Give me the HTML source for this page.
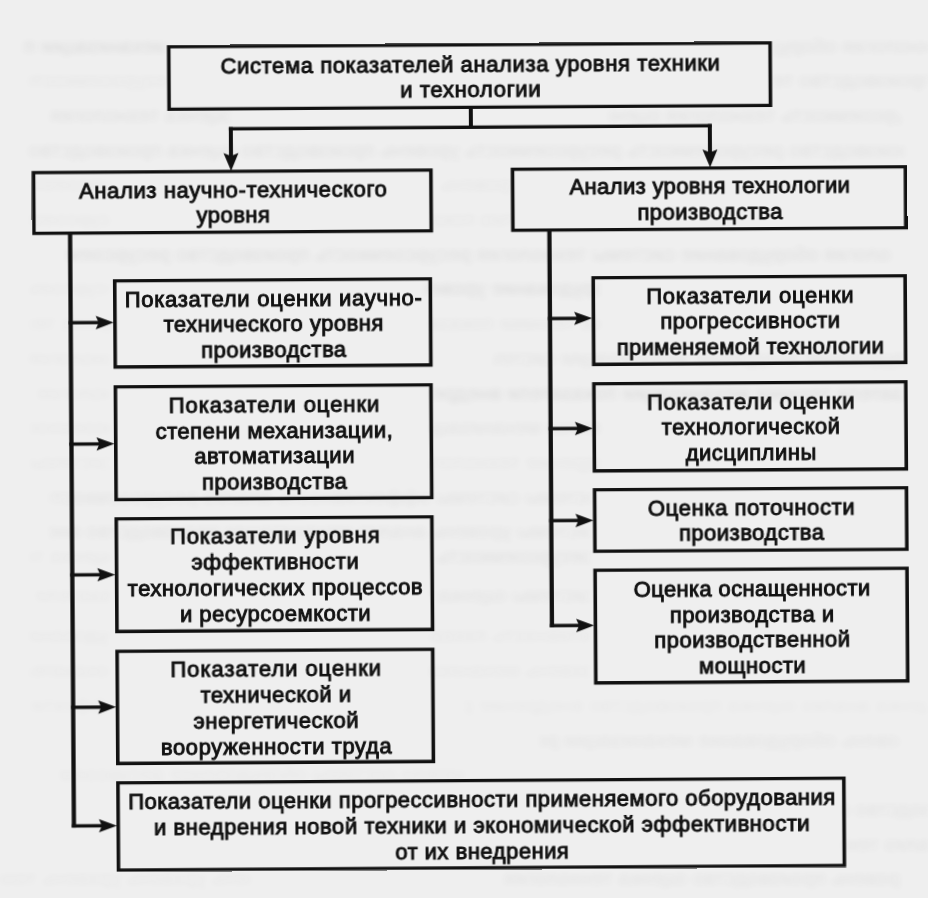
<!DOCTYPE html>
<html><head><meta charset="utf-8"><style>
html,body{margin:0;padding:0;background:#efefef;}
body{width:928px;height:898px;overflow:hidden;}
svg{display:block;}
.st{font-family:"Liberation Sans",sans-serif;font-size:20px;letter-spacing:0.5px;fill:#555;stroke:none;text-anchor:start;}
text{font-family:"Liberation Sans",sans-serif;font-size:22px;letter-spacing:0.5px;fill:#111;text-anchor:middle;stroke:#111;stroke-width:0.95px;}
</style></head><body>
<svg width="928" height="898" viewBox="0 0 928 898">
<defs><filter id="blur" x="-5%" y="-80%" width="110%" height="260%"><feGaussianBlur stdDeviation="3.2 2.6"/></filter><clipPath id="c0_0"><rect x="25" y="33.0" width="140" height="26"/></clipPath><clipPath id="c0_1"><rect x="774" y="33.0" width="154" height="26"/></clipPath><clipPath id="c1_0"><rect x="30" y="67.7" width="135" height="26"/></clipPath><clipPath id="c1_1"><rect x="774" y="67.7" width="154" height="26"/></clipPath><clipPath id="c2_0"><rect x="50" y="102.4" width="180" height="26"/></clipPath><clipPath id="c2_1"><rect x="610" y="102.4" width="290" height="26"/></clipPath><clipPath id="c3_0"><rect x="25" y="137.1" width="879" height="26"/></clipPath><clipPath id="c4_0"><rect x="434" y="171.8" width="78" height="26"/></clipPath><clipPath id="c4_1"><rect x="30" y="171.8" width="80" height="26"/></clipPath><clipPath id="c5_0"><rect x="434" y="206.5" width="78" height="26"/></clipPath><clipPath id="c5_1"><rect x="30" y="206.5" width="80" height="26"/></clipPath><clipPath id="c6_0"><rect x="65" y="241.2" width="825" height="26"/></clipPath><clipPath id="c7_0"><rect x="425" y="275.9" width="175" height="26"/></clipPath><clipPath id="c7_1"><rect x="30" y="275.9" width="80" height="26"/></clipPath><clipPath id="c8_0"><rect x="430" y="310.6" width="170" height="26"/></clipPath><clipPath id="c8_1"><rect x="30" y="310.6" width="80" height="26"/></clipPath><clipPath id="c9_0"><rect x="494" y="345.3" width="410" height="26"/></clipPath><clipPath id="c9_1"><rect x="30" y="345.3" width="80" height="26"/></clipPath><clipPath id="c10_0"><rect x="430" y="380.0" width="474" height="26"/></clipPath><clipPath id="c10_1"><rect x="30" y="380.0" width="80" height="26"/></clipPath><clipPath id="c11_0"><rect x="430" y="414.7" width="170" height="26"/></clipPath><clipPath id="c11_1"><rect x="30" y="414.7" width="80" height="26"/></clipPath><clipPath id="c12_0"><rect x="430" y="449.4" width="170" height="26"/></clipPath><clipPath id="c12_1"><rect x="30" y="449.4" width="80" height="26"/></clipPath><clipPath id="c13_0"><rect x="50" y="484.1" width="540" height="26"/></clipPath><clipPath id="c14_0"><rect x="50" y="518.8" width="540" height="26"/></clipPath><clipPath id="c15_0"><rect x="430" y="543.0" width="160" height="26"/></clipPath><clipPath id="c15_1"><rect x="30" y="543.0" width="80" height="26"/></clipPath><clipPath id="c16_0"><rect x="430" y="582.0" width="160" height="26"/></clipPath><clipPath id="c16_1"><rect x="30" y="582.0" width="80" height="26"/></clipPath><clipPath id="c17_0"><rect x="430" y="622.9" width="160" height="26"/></clipPath><clipPath id="c17_1"><rect x="30" y="622.9" width="80" height="26"/></clipPath><clipPath id="c18_0"><rect x="430" y="657.6" width="160" height="26"/></clipPath><clipPath id="c18_1"><rect x="30" y="657.6" width="80" height="26"/></clipPath><clipPath id="c19_0"><rect x="464" y="692.3" width="464" height="26"/></clipPath><clipPath id="c19_1"><rect x="30" y="692.3" width="80" height="26"/></clipPath><clipPath id="c20_0"><rect x="540" y="727.0" width="360" height="26"/></clipPath><clipPath id="c21_0"><rect x="60" y="761.7" width="404" height="26"/></clipPath><clipPath id="c22_0"><rect x="843" y="796.4" width="85" height="26"/></clipPath><clipPath id="c23_0"><rect x="843" y="831.1" width="85" height="26"/></clipPath><clipPath id="c24_0"><rect x="0" y="865.8" width="250" height="26"/></clipPath><clipPath id="c24_1"><rect x="500" y="865.8" width="400" height="26"/></clipPath></defs>
<rect x="0" y="0" width="928" height="898" fill="#efefef"/>
<g filter="url(#blur)" opacity="0.12"><g clip-path="url(#c0_0)"><text class="st" x="-168" y="52.5" transform="scale(-1 1)" fill-opacity="0.90">механизации показатели уровень анализ</text></g>
<g clip-path="url(#c0_1)"><text class="st" x="-951" y="52.5" transform="scale(-1 1)" fill-opacity="0.70">технология оборудование технология</text></g>
<g clip-path="url(#c1_0)"><text class="st" x="-178" y="87.2" transform="scale(-1 1)" fill-opacity="0.40">ресурсоемкость производство оборудование</text></g>
<g clip-path="url(#c1_1)"><text class="st" x="-932" y="87.2" transform="scale(-1 1)" fill-opacity="0.70">производство технология уровень уровень</text></g>
<g clip-path="url(#c2_0)"><text class="st" x="-233" y="121.9" transform="scale(-1 1)" fill-opacity="0.70">оценка технология оборудование уровень</text></g>
<g clip-path="url(#c2_1)"><text class="st" x="-937" y="121.9" transform="scale(-1 1)" fill-opacity="0.70">ресурсоемкость технология оценка анализ анализ</text></g>
<g clip-path="url(#c3_0)"><text class="st" x="-922" y="156.6" transform="scale(-1 1)" fill-opacity="0.70">производство ресурсоемкость ресурсоемкость уровень производство оценка производство оборудование показатели</text></g>
<g clip-path="url(#c4_0)"><text class="st" x="-519" y="191.3" transform="scale(-1 1)" fill-opacity="0.40">уровень показатели оборудование</text></g>
<g clip-path="url(#c4_1)"><text class="st" x="-145" y="191.3" transform="scale(-1 1)" fill-opacity="0.30">ресурсоемкость эффективность</text></g>
<g clip-path="url(#c5_0)"><text class="st" x="-549" y="226.0" transform="scale(-1 1)" fill-opacity="0.40">анализ показатели технология</text></g>
<g clip-path="url(#c5_1)"><text class="st" x="-133" y="226.0" transform="scale(-1 1)" fill-opacity="0.30">ресурсоемкость анализ оценка</text></g>
<g clip-path="url(#c6_0)"><text class="st" x="-933" y="260.7" transform="scale(-1 1)" fill-opacity="0.80">технология оборудование системы технология ресурсоемкость производство ресурсоемкость оценка внедрение</text></g>
<g clip-path="url(#c7_0)"><text class="st" x="-629" y="295.4" transform="scale(-1 1)" fill-opacity="0.90">оборудование уровень техники механизации</text></g>
<g clip-path="url(#c7_1)"><text class="st" x="-129" y="295.4" transform="scale(-1 1)" fill-opacity="0.30">ресурсоемкость внедрение механизации</text></g>
<g clip-path="url(#c8_0)"><text class="st" x="-649" y="330.1" transform="scale(-1 1)" fill-opacity="0.45">оценка техники показатели системы</text></g>
<g clip-path="url(#c8_1)"><text class="st" x="-129" y="330.1" transform="scale(-1 1)" fill-opacity="0.30">оценка технология ресурсоемкость</text></g>
<g clip-path="url(#c9_0)"><text class="st" x="-942" y="364.8" transform="scale(-1 1)" fill-opacity="0.60">оборудование внедрение механизации системы внедрение эффективность</text></g>
<g clip-path="url(#c9_1)"><text class="st" x="-136" y="364.8" transform="scale(-1 1)" fill-opacity="0.30">технология технология оборудование</text></g>
<g clip-path="url(#c10_0)"><text class="st" x="-946" y="399.5" transform="scale(-1 1)" fill-opacity="0.90">показатели техники механизации показатели внедрение уровень производство</text></g>
<g clip-path="url(#c10_1)"><text class="st" x="-146" y="399.5" transform="scale(-1 1)" fill-opacity="0.30">технология техники оборудование</text></g>
<g clip-path="url(#c11_0)"><text class="st" x="-622" y="434.2" transform="scale(-1 1)" fill-opacity="0.60">техники механизации механизации системы</text></g>
<g clip-path="url(#c11_1)"><text class="st" x="-161" y="434.2" transform="scale(-1 1)" fill-opacity="0.30">ресурсоемкость внедрение ресурсоемкость</text></g>
<g clip-path="url(#c12_0)"><text class="st" x="-630" y="468.9" transform="scale(-1 1)" fill-opacity="0.40">внедрение технология технология эффективность</text></g>
<g clip-path="url(#c12_1)"><text class="st" x="-113" y="468.9" transform="scale(-1 1)" fill-opacity="0.30">системы анализ технология</text></g>
<g clip-path="url(#c13_0)"><text class="st" x="-608" y="503.6" transform="scale(-1 1)" fill-opacity="0.60">системы системы эффективность анализ ресурсоемкость анализ внедрение</text></g>
<g clip-path="url(#c14_0)"><text class="st" x="-600" y="538.3" transform="scale(-1 1)" fill-opacity="0.60">системы уровень анализ механизации производство внедрение механизации</text></g>
<g clip-path="url(#c15_0)"><text class="st" x="-593" y="562.5" transform="scale(-1 1)" fill-opacity="0.70">ресурсоемкость технология внедрение</text></g>
<g clip-path="url(#c15_1)"><text class="st" x="-118" y="562.5" transform="scale(-1 1)" fill-opacity="0.30">оценка техники эффективность</text></g>
<g clip-path="url(#c16_0)"><text class="st" x="-595" y="601.5" transform="scale(-1 1)" fill-opacity="0.60">системы оценка уровень уровень внедрение</text></g>
<g clip-path="url(#c16_1)"><text class="st" x="-145" y="601.5" transform="scale(-1 1)" fill-opacity="0.30">показатели внедрение уровень</text></g>
<g clip-path="url(#c17_0)"><text class="st" x="-645" y="642.4" transform="scale(-1 1)" fill-opacity="0.35">эффективность показатели уровень</text></g>
<g clip-path="url(#c17_1)"><text class="st" x="-155" y="642.4" transform="scale(-1 1)" fill-opacity="0.30">оборудование эффективность</text></g>
<g clip-path="url(#c18_0)"><text class="st" x="-604" y="677.1" transform="scale(-1 1)" fill-opacity="0.35">уровень механизации анализ уровень</text></g>
<g clip-path="url(#c18_1)"><text class="st" x="-119" y="677.1" transform="scale(-1 1)" fill-opacity="0.30">показатели технология показатели</text></g>
<g clip-path="url(#c19_0)"><text class="st" x="-944" y="711.8" transform="scale(-1 1)" fill-opacity="0.25">оценка анализ оценка производство внедрение ресурсоемкость показатели</text></g>
<g clip-path="url(#c19_1)"><text class="st" x="-119" y="711.8" transform="scale(-1 1)" fill-opacity="0.25">эффективность производство</text></g>
<g clip-path="url(#c20_0)"><text class="st" x="-920" y="746.5" transform="scale(-1 1)" fill-opacity="0.55">уровень оборудование механизации ресурсоемкость ресурсоемкость</text></g>
<g clip-path="url(#c21_0)"><text class="st" x="-511" y="781.2" transform="scale(-1 1)" fill-opacity="0.30">показатели системы оборудование ресурсоемкость анализ анализ</text></g>
<g clip-path="url(#c22_0)"><text class="st" x="-988" y="815.9" transform="scale(-1 1)" fill-opacity="0.60">производство внедрение техники</text></g>
<g clip-path="url(#c23_0)"><text class="st" x="-953" y="850.6" transform="scale(-1 1)" fill-opacity="0.60">анализ техники оборудование</text></g>
<g clip-path="url(#c24_0)"><text class="st" x="-290" y="885.3" transform="scale(-1 1)" fill-opacity="0.35">уровень уровень уровень технология внедрение</text></g>
<g clip-path="url(#c24_1)"><text class="st" x="-910" y="885.3" transform="scale(-1 1)" fill-opacity="0.60">уровень производство оценка технология оценка внедрение</text></g></g>
<g transform="rotate(-0.37 464 449)">
<g fill="#111" stroke="none">
<path fill="#111" fill-rule="evenodd" stroke="none" d="M169.50 43.30H774.50V109.00H169.50Z M173.10 46.60V105.70H770.90V46.60Z"/>
<path fill="#111" fill-rule="evenodd" stroke="none" d="M33.50 168.30H434.50V232.30H33.50Z M37.10 171.60V229.00H430.90V171.60Z"/>
<path fill="#111" fill-rule="evenodd" stroke="none" d="M512.50 168.00H909.00V232.20H512.50Z M516.10 171.30V228.90H905.40V171.30Z"/>
<path fill="#111" fill-rule="evenodd" stroke="none" d="M114.00 277.00H433.20V366.40H114.00Z M117.60 280.30V363.10H429.60V280.30Z"/>
<path fill="#111" fill-rule="evenodd" stroke="none" d="M114.00 383.00H433.20V499.00H114.00Z M117.60 386.30V495.70H429.60V386.30Z"/>
<path fill="#111" fill-rule="evenodd" stroke="none" d="M114.00 515.00H433.20V630.90H114.00Z M117.60 518.30V627.60H429.60V518.30Z"/>
<path fill="#111" fill-rule="evenodd" stroke="none" d="M114.00 647.50H433.20V762.90H114.00Z M117.60 650.80V759.60H429.60V650.80Z"/>
<path fill="#111" fill-rule="evenodd" stroke="none" d="M114.00 779.00H843.50V869.60H114.00Z M117.60 782.30V866.30H839.90V782.30Z"/>
<path fill="#111" fill-rule="evenodd" stroke="none" d="M592.50 277.00H908.00V366.90H592.50Z M596.10 280.30V363.60H904.40V280.30Z"/>
<path fill="#111" fill-rule="evenodd" stroke="none" d="M592.50 383.00H908.00V473.40H592.50Z M596.10 386.30V470.10H904.40V386.30Z"/>
<path fill="#111" fill-rule="evenodd" stroke="none" d="M592.50 489.00H908.00V553.80H592.50Z M596.10 492.30V550.50H904.40V492.30Z"/>
<path fill="#111" fill-rule="evenodd" stroke="none" d="M592.50 569.50H908.00V685.40H592.50Z M596.10 572.80V682.10H904.40V572.80Z"/>
<rect x="471.00" y="107.00" width="4.00" height="22.00"/>
<rect x="230.90" y="125.60" width="483.00" height="3.40"/>
<rect x="230.90" y="125.60" width="4.00" height="34.40"/>
<rect x="709.90" y="125.60" width="4.00" height="34.40"/>
<rect x="69.35" y="230.00" width="4.30" height="595.10"/>
<rect x="69.40" y="318.50" width="30.60" height="3.40"/>
<rect x="69.40" y="439.90" width="30.60" height="3.40"/>
<rect x="69.40" y="570.70" width="30.60" height="3.40"/>
<rect x="69.40" y="703.10" width="30.60" height="3.40"/>
<rect x="69.40" y="821.70" width="30.60" height="3.40"/>
<rect x="548.65" y="230.00" width="4.30" height="397.90"/>
<rect x="548.70" y="317.40" width="31.30" height="3.40"/>
<rect x="548.70" y="427.50" width="31.30" height="3.40"/>
<rect x="548.70" y="519.50" width="31.30" height="3.40"/>
<rect x="548.70" y="624.50" width="31.30" height="3.40"/>
</g>
<g fill="#111" stroke="none">
<path d="M114.5 320.2 L96.5 313.5 L99.5 320.2 L96.5 326.9 Z"/>
<path d="M114.5 441.6 L96.5 434.90000000000003 L99.5 441.6 L96.5 448.3 Z"/>
<path d="M114.5 572.4 L96.5 565.6999999999999 L99.5 572.4 L96.5 579.1 Z"/>
<path d="M114.5 704.8 L96.5 698.0999999999999 L99.5 704.8 L96.5 711.5 Z"/>
<path d="M114.5 823.4 L96.5 816.6999999999999 L99.5 823.4 L96.5 830.1 Z"/>
<path d="M593 319.1 L575 312.40000000000003 L578 319.1 L575 325.8 Z"/>
<path d="M593 429.2 L575 422.5 L578 429.2 L575 435.9 Z"/>
<path d="M593 521.2 L575 514.5 L578 521.2 L575 527.9000000000001 Z"/>
<path d="M593 626.2 L575 619.5 L578 626.2 L575 632.9000000000001 Z"/>
<path d="M232.9 169.5 L225.4 151.5 L232.9 154.5 L240.4 151.5 Z"/>
<path d="M711.9 169.0 L704.4 151.0 L711.9 154.0 L719.4 151.0 Z"/>
</g>
<g>
<text x="472.95" y="72.30" textLength="499.81" lengthAdjust="spacing">Система показателей анализа уровня техники</text>
<text x="472.95" y="97.30" textLength="140.81" lengthAdjust="spacing">и технологии</text>
<text x="234.95" y="195.50" textLength="308.30" lengthAdjust="spacing">Анализ научно-технического</text>
<text x="234.95" y="221.30">уровня</text>
<text x="711.70" y="195.30" textLength="280.88" lengthAdjust="spacing">Анализ уровня технологии</text>
<text x="711.70" y="220.60">производства</text>
<text x="274.55" y="305.00" textLength="297.52" lengthAdjust="spacing">Показатели оценки иаучно-</text>
<text x="274.55" y="330.25">технического уровня</text>
<text x="274.55" y="355.50">производства</text>
<text x="274.55" y="411.20" textLength="210.95" lengthAdjust="spacing">Показатели оценки</text>
<text x="274.55" y="436.80">степени механизации,</text>
<text x="274.55" y="462.40">автоматизации</text>
<text x="274.55" y="488.00">производства</text>
<text x="274.55" y="542.40" textLength="210.03" lengthAdjust="spacing">Показатели уровня</text>
<text x="274.55" y="568.30">эффективности</text>
<text x="274.55" y="594.20">технологических процессов</text>
<text x="274.55" y="620.10">и ресурсоемкости</text>
<text x="274.55" y="674.70" textLength="210.95" lengthAdjust="spacing">Показатели оценки</text>
<text x="274.55" y="700.70">технической и</text>
<text x="274.55" y="726.70">энергетической</text>
<text x="274.55" y="752.70" textLength="231.33" lengthAdjust="spacing">вооруженности труда</text>
<text x="479.70" y="806.80">Показатели оценки прогрессивности применяемого оборудования</text>
<text x="479.70" y="832.80" textLength="656.36" lengthAdjust="spacing">и внедрения новой техники и экономической эффективности</text>
<text x="479.70" y="858.80">от их внедрения</text>
<text x="751.20" y="305.10" textLength="207.85" lengthAdjust="spacing">Показатели оценки</text>
<text x="751.20" y="330.40">прогрессивности</text>
<text x="751.20" y="355.70" textLength="267.47" lengthAdjust="spacing">применяемой технологии</text>
<text x="751.20" y="410.50" textLength="207.95" lengthAdjust="spacing">Показатели оценки</text>
<text x="751.20" y="436.15">технологической</text>
<text x="751.20" y="461.80">дисциплины</text>
<text x="751.20" y="516.90" textLength="207.27" lengthAdjust="spacing">Оценка поточности</text>
<text x="751.20" y="542.40">производства</text>
<text x="751.20" y="597.60" textLength="237.02" lengthAdjust="spacing">Оценка оснащенности</text>
<text x="751.20" y="623.50">производства и</text>
<text x="751.20" y="649.40">производственной</text>
<text x="751.20" y="675.30">мощности</text>
</g>
</g>
</svg>
</body></html>
